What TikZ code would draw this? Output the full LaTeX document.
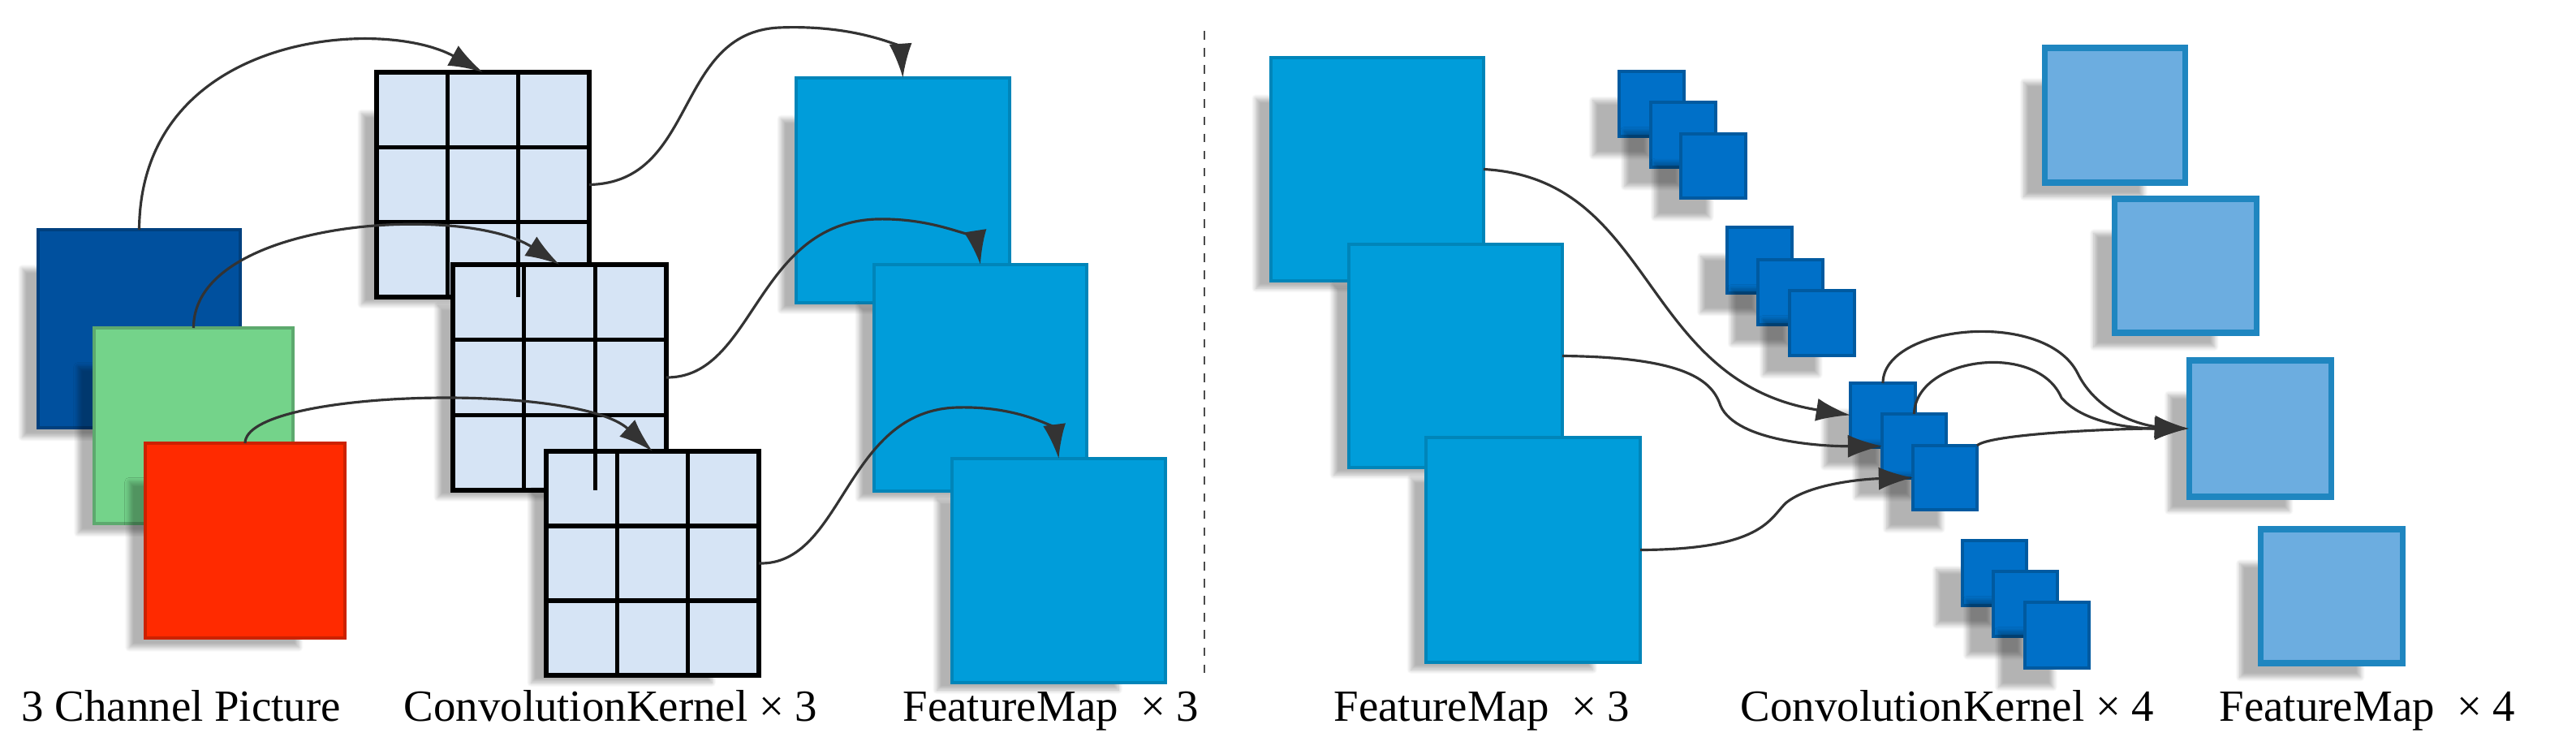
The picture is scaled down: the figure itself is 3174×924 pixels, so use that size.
\documentclass[tikz,border=0pt]{standalone}
\usepackage{fontspec}
\setmainfont{Liberation Serif}
\usetikzlibrary{fit,calc,arrows.meta,shadows.blur}
\definecolor{dkb}{RGB}{0,80,158}
\definecolor{grn}{RGB}{116,211,138}
\definecolor{rd}{RGB}{255,42,0}
\definecolor{kfill}{RGB}{214,228,245}
\definecolor{fmc}{RGB}{0,157,218}
\definecolor{skc}{RGB}{0,112,200}
\definecolor{outc}{RGB}{108,173,224}
\definecolor{outb}{RGB}{31,134,192}
\begin{document}
\begin{tikzpicture}[x=0.01cm,y=-0.01cm,
  bx/.style={inner sep=0pt,outer sep=0pt,line width=1.2pt,blur shadow={shadow xshift=-0.45cm,shadow yshift=-0.35cm,shadow opacity=30,shadow blur steps=8,shadow scale=0.85}},
  chan/.style={bx,fill=#1,draw=#1!80!black},
  kern/.style={bx,fill=kfill,draw=black,line width=1.6pt},
  fm/.style={bx,fill=fmc,draw=fmc!85!black},
  sk/.style={bx,fill=skc,draw=skc!80!black},
  outm/.style={bx,fill=outc,draw=outb,line width=2pt},
  arr/.style={-{Latex[length=12pt,width=8pt]},line width=0.9pt,black!80},
  lab/.style={anchor=base west,inner sep=0pt,font=\fontsize{15.6}{18}\selectfont}]
\useasboundingbox (0,0) rectangle (3174,924);
\newcommand\mkbox[6]{\node[fit={(#2,#3)(#4,#5)},#6] (#1) {};}
% left channels
\mkbox{db}{47}{283}{296}{527}{chan=dkb}
\mkbox{gr}{116}{404}{361}{645}{chan=grn}
\mkbox{rdb}{179}{546}{425}{786}{chan=rd}
% kernels
\mkbox{k1}{464}{89}{726}{366}{kern}
\mkbox{k2}{558}{326}{821}{604}{kern}
\mkbox{k3}{673}{556}{935}{832}{kern}
\foreach \k in {k1,k2,k3}{
  \foreach \i in {1,2}{
    \draw[line width=1.6pt] ($(\k.north west)!\i/3!(\k.north east)$) -- ($(\k.south west)!\i/3!(\k.south east)$);
    \draw[line width=1.6pt] ($(\k.north west)!\i/3!(\k.south west)$) -- ($(\k.north east)!\i/3!(\k.south east)$);
  }}
% feature maps left
\mkbox{f1}{981}{96}{1244}{373}{fm}
\mkbox{f2}{1077}{326}{1339}{605}{fm}
\mkbox{f3}{1173}{565}{1436}{841}{fm}
% dashed separator
\coordinate (dt) at (1484,38);
\coordinate (dbm) at (1484,838);
\draw[dashed,line width=0.8pt,black!70] (dt) -- (dbm);
% right feature maps
\mkbox{fa}{1566}{71}{1828}{346}{fm}
\mkbox{fb}{1662}{301}{1925}{576}{fm}
\mkbox{fc}{1757}{539}{2021}{816}{fm}
% small kernels
\mkbox{g1a}{1995}{88}{2075}{168}{sk}
\mkbox{g1b}{2034}{126}{2114}{206}{sk}
\mkbox{g1c}{2071}{165}{2151}{244}{sk}
\mkbox{g2a}{2128}{280}{2208}{361}{sk}
\mkbox{g2b}{2166}{320}{2246}{400}{sk}
\mkbox{g2c}{2205}{358}{2285}{438}{sk}
\mkbox{g3a}{2280}{472}{2360}{551}{sk}
\mkbox{g3b}{2319}{510}{2398}{589}{sk}
\mkbox{g3c}{2357}{549}{2436}{628}{sk}
\mkbox{g4a}{2418}{666}{2497}{746}{sk}
\mkbox{g4b}{2456}{704}{2535}{784}{sk}
\mkbox{g4c}{2495}{742}{2574}{823}{sk}
% outputs
\mkbox{o1}{2519}{59}{2692}{225}{outm}
\mkbox{o2}{2605}{245}{2780}{410}{outm}
\mkbox{o3}{2697}{444}{2872}{612}{outm}
\mkbox{o4}{2785}{652}{2960}{817}{outm}
% left arrows
\draw[arr] (db.north) .. controls (173,40) and (470,20) .. (k1.north);
\draw[arr] (gr.north) .. controls (238,270) and (570,250) .. (k2.north);
\draw[arr] (rdb.north) .. controls (302,480) and (710,470) .. (k3.north);
\draw[arr] (k1.east) .. controls (860,225) and (830,40) .. (960,34) .. controls (1060,30) and (1110,60) .. (f1.north);
\draw[arr] (k2.east) .. controls (930,466) and (930,275) .. (1080,270) .. controls (1160,268) and (1204,300) .. (f2.north);
\draw[arr] (k3.east) .. controls (1040,697) and (1040,505) .. (1180,502) .. controls (1260,500) and (1300,530) .. (f3.north);
% right arrows
\draw[arr] (fa.east) .. controls (2040,220) and (2020,470) .. (g3a.west);
\draw[arr] (fb.east) .. controls (2080,440) and (2110,470) .. (2120,500) .. controls (2140,545) and (2250,550) .. (g3b.west);
\draw[arr] (fc.east) .. controls (2170,677) and (2180,640) .. (2200,620) .. controls (2230,595) and (2300,590) .. (g3c.west);
\draw[arr] (g3a.north) .. controls (2320,400) and (2520,380) .. (2560,460) .. controls (2590,520) and (2660,526) .. (o3.west);
\draw[arr] (g3b.north) .. controls (2360,440) and (2510,420) .. (2540,490) .. controls (2570,525) and (2640,528) .. (o3.west);
\draw[arr] (g3c.north east) .. controls (2450,535) and (2600,528) .. (o3.west);
% labels
\node[lab] (l1) at (26,888) {3 Channel Picture};
\node[lab] (l2) at (497,888) {ConvolutionKernel × 3};
\node[lab] (l3) at (1112,888) {FeatureMap\ \ × 3};
\node[lab] (l4) at (1643,888) {FeatureMap\ \ × 3};
\node[lab] (l5) at (2144,888) {ConvolutionKernel × 4};
\node[lab] (l6) at (2734,888) {FeatureMap\ \ × 4};
\end{tikzpicture}
\end{document}
